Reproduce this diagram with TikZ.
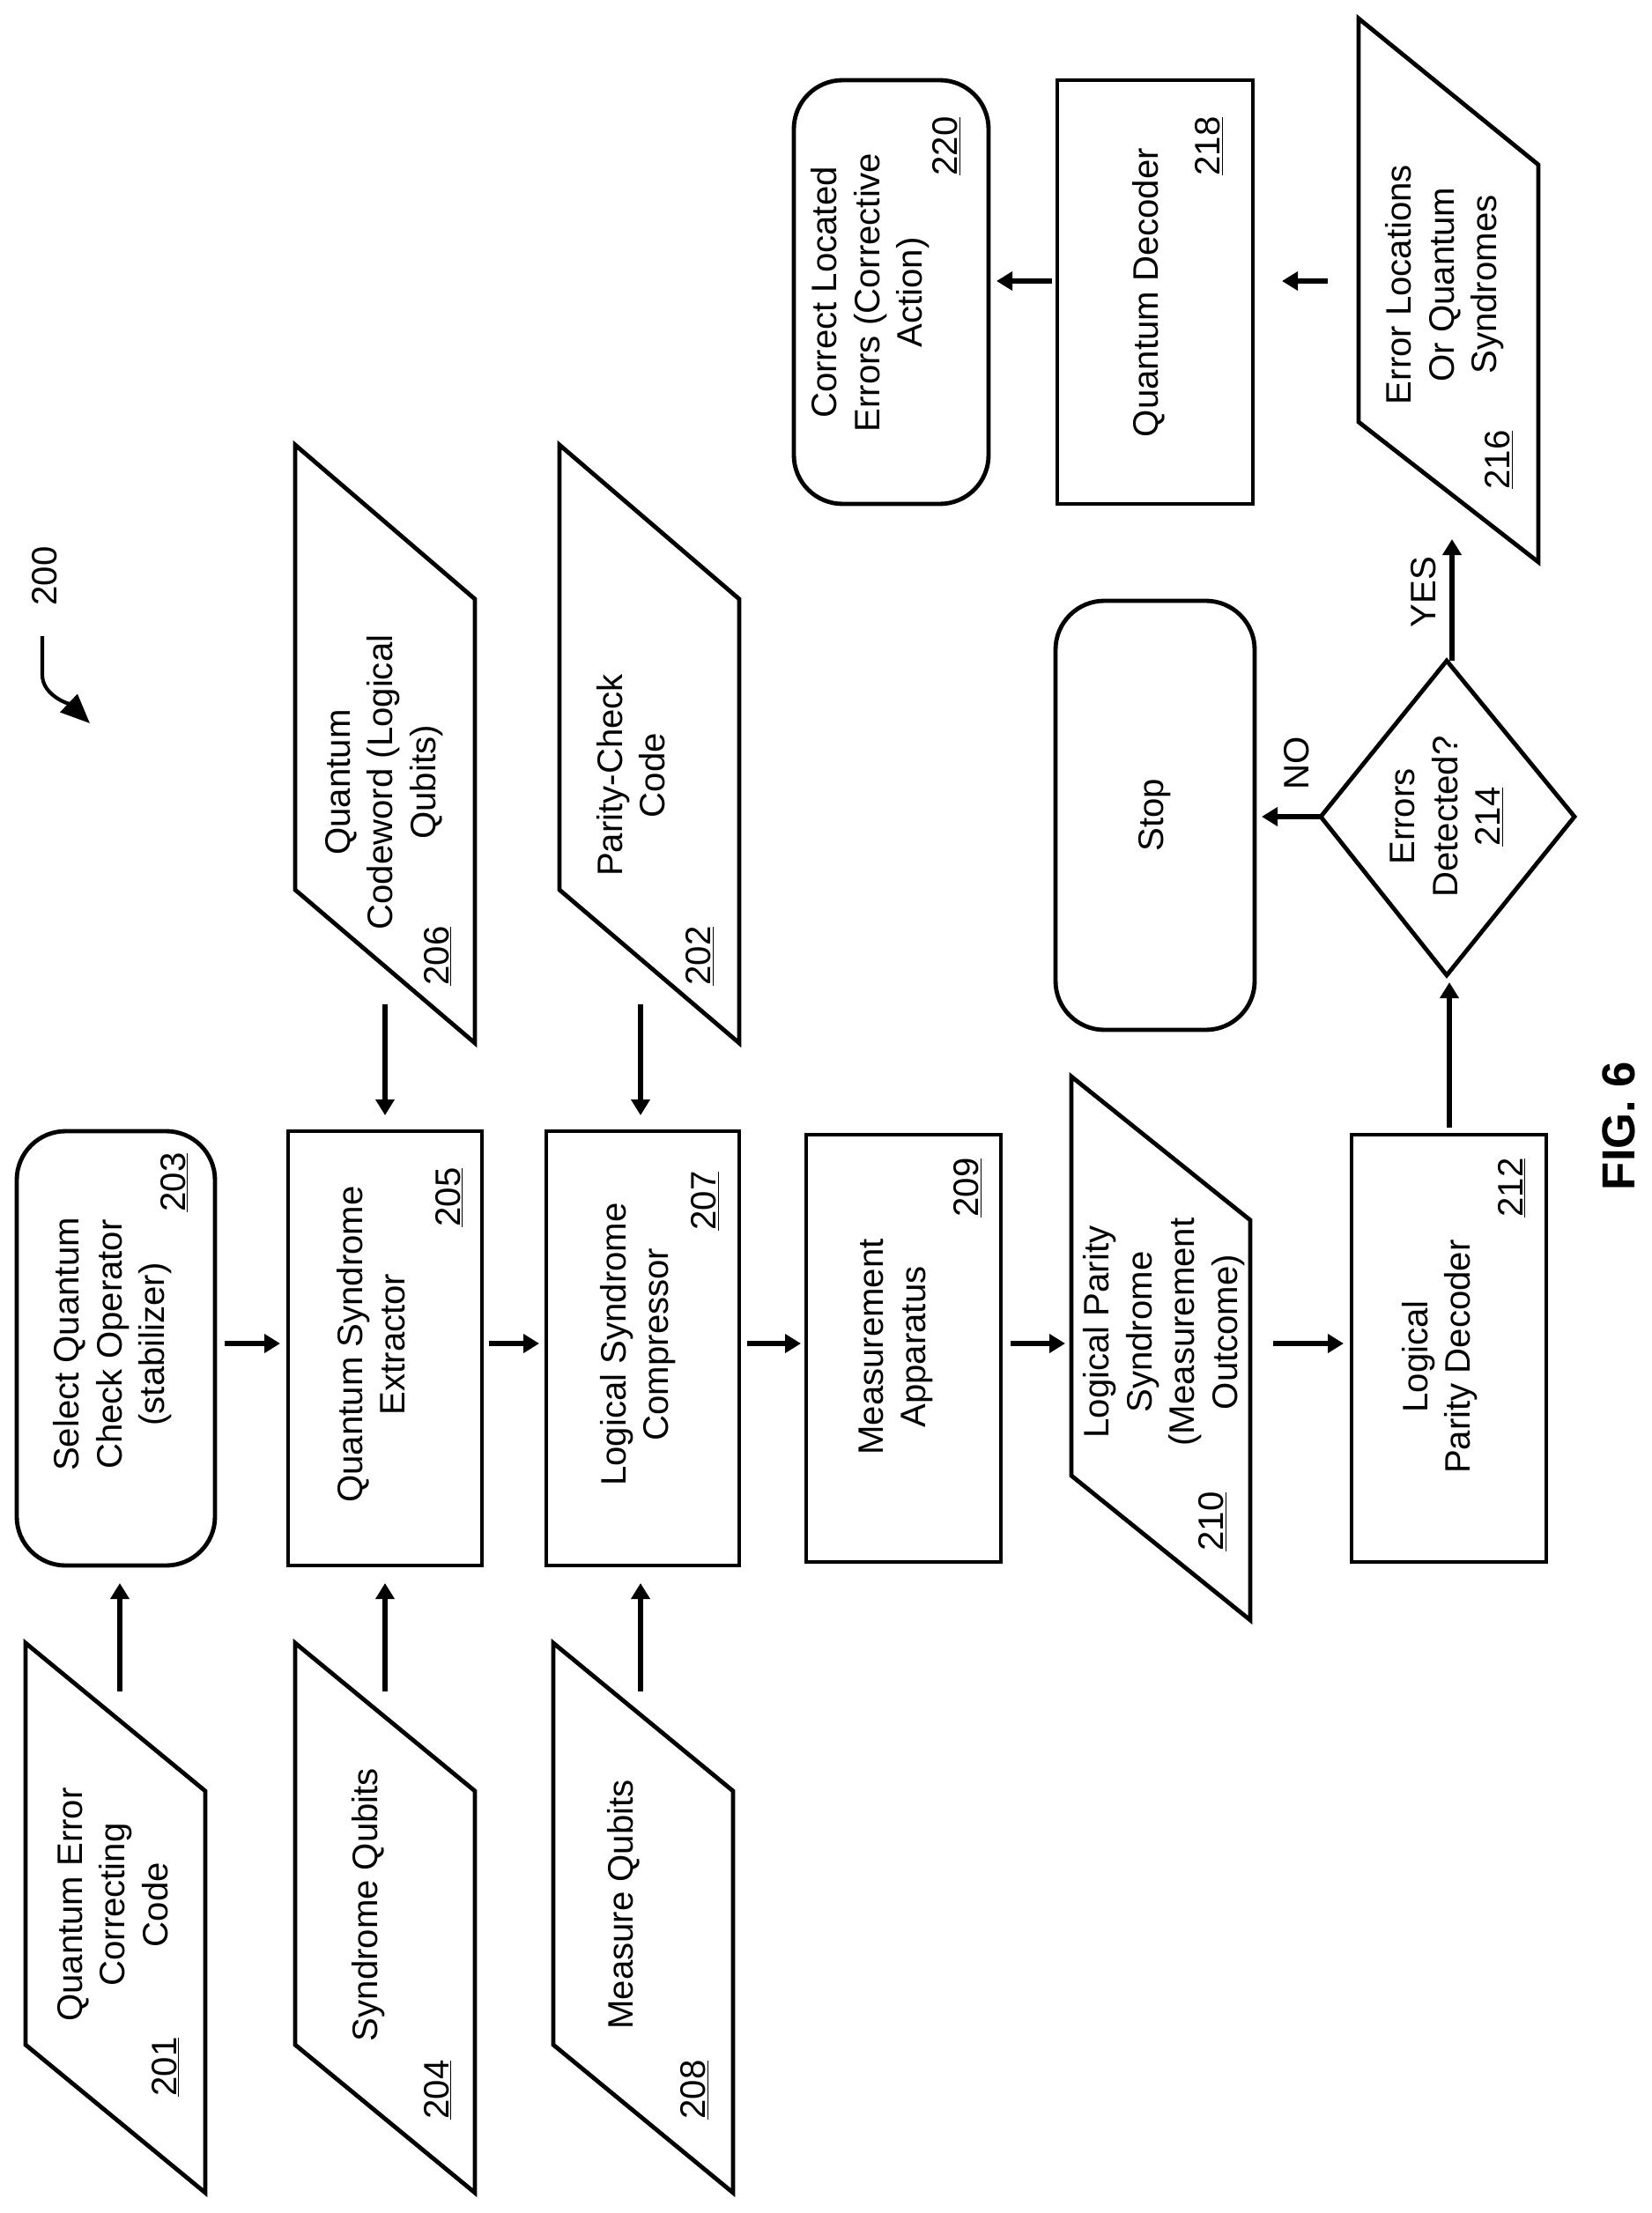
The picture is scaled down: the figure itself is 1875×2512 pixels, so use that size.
\documentclass[tikz,border=0pt]{standalone}
\usepackage{fontspec}
\setmainfont{Liberation Sans}
\usetikzlibrary{arrows.meta}
\begin{document}
\begin{tikzpicture}[x=0.01in,y=-0.01in,
  box/.style={draw,line width=3.5pt},
  rbox/.style={draw,line width=3.5pt,rounded corners=40pt},
  txt/.style={rotate=90,align=center,font=\fontsize{29}{35}\selectfont,inner sep=0pt},
  num/.style={rotate=90,font=\fontsize{29}{35}\selectfont,inner sep=0pt},
  arr/.style={line width=4pt,-{Triangle[length=13pt,width=15pt]}}]
\useasboundingbox (0,0) rectangle (1875,2512);
% rectangles
\draw[rbox] (19,1284) rectangle (244,1777);
\draw[box] (327,1284) rectangle (547,1777);
\draw[box] (620,1284) rectangle (839,1777);
\draw[box] (915,1288) rectangle (1136,1773);
\draw[box] (1534,1288) rectangle (1755,1773);
\draw[rbox] (901,91) rectangle (1122,572);
\draw[box] (1200,91) rectangle (1422,572);
\draw[rbox] (1198,682) rectangle (1424,1169);
% parallelograms
\draw[box] (29,1865) -- (233,2033) -- (233,2489) -- (29,2321) -- cycle;
\draw[box] (335,1865) -- (539,2033) -- (539,2489) -- (335,2321) -- cycle;
\draw[box] (628,1865) -- (832,2033) -- (832,2489) -- (628,2321) -- cycle;
\draw[box] (335,505) -- (539,680) -- (539,1184) -- (335,1010) -- cycle;
\draw[box] (635,505) -- (839,680) -- (839,1184) -- (635,1010) -- cycle;
\draw[box] (1216,1222) -- (1419,1385) -- (1419,1839) -- (1216,1675) -- cycle;
\draw[box] (1542,21) -- (1746,187) -- (1746,638) -- (1542,479) -- cycle;
% diamond
\draw[box] (1499,927) -- (1642,750) -- (1787,927) -- (1642,1107) -- cycle;
% texts
\node[txt] (t203) at (128,1526) {Select Quantum\\Check Operator\\(stabilizer)};
\node[num] (n203) at (198,1342) {\underline{203}};
\node[txt] (t205) at (421,1526) {Quantum Syndrome\\Extractor};
\node[num] (n205) at (510,1359) {\underline{205}};
\node[txt] (t207) at (724,1526) {Logical Syndrome\\Compressor};
\node[num] (n207) at (800,1363) {\underline{207}};
\node[txt] (t209) at (1017,1529) {Measurement\\Apparatus};
\node[num] (n209) at (1098,1348) {\underline{209}};
\node[txt] (t210) at (1321,1512) {Logical Parity\\Syndrome\\(Measurement\\Outcome)};
\node[num] (n210) at (1376,1727) {\underline{210}};
\node[txt] (t212) at (1634,1540) {Logical\\Parity Decoder};
\node[num] (n212) at (1716,1348) {\underline{212}};
\node[txt] (t201) at (128,2162) {Quantum Error\\Correcting\\Code};
\node[num] (n201) at (188,2346) {\underline{201}};
\node[txt] (t204) at (418,2162) {Syndrome Qubits};
\node[num] (n204) at (497,2372) {\underline{204}};
\node[txt] (t208) at (708,2162) {Measure Qubits};
\node[num] (n208) at (788,2372) {\underline{208}};
\node[txt] (t206) at (436,888) {Quantum\\Codeword (Logical\\Qubits)};
\node[num] (n206) at (497,1085) {\underline{206}};
\node[txt] (t202) at (716,880) {Parity-Check\\Code};
\node[num] (n202) at (794,1085) {\underline{202}};
\node[txt] (t220) at (988,332) {Correct Located\\Errors (Corrective\\Action)};
\node[num] (n220) at (1074,166) {\underline{220}};
\node[txt] (t218) at (1304,332) {Quantum Decoder};
\node[num] (n218) at (1372,166) {\underline{218}};
\node[txt] (t216) at (1640,323) {Error Locations\\Or Quantum\\Syndromes};
\node[num] (n216) at (1701,522) {\underline{216}};
\node[txt] (tstop) at (1311,925) {Stop};
\node[txt] (t214) at (1642,927) {Errors\\Detected?\\\underline{214}};
\node[num] (no) at (1472,866) {NO};
\node[num] (yes) at (1616,672) {YES};
\node[num] (n200) at (51,654) {200};
\node[rotate=90,font=\bfseries\fontsize{38}{42}\selectfont,inner sep=0pt] (fig) at (1837,1278) {FIG. 6};
% arrow coordinates
\coordinate (a1s) at (136,1920); \coordinate (a1e) at (136,1797);
\coordinate (a2s) at (437,1920); \coordinate (a2e) at (437,1797);
\coordinate (a3s) at (727,1920); \coordinate (a3e) at (727,1797);
\coordinate (a4s) at (437,1140); \coordinate (a4e) at (437,1266);
\coordinate (a5s) at (727,1140); \coordinate (a5e) at (727,1266);
\coordinate (h1s) at (255,1525); \coordinate (h1e) at (318,1525);
\coordinate (h2s) at (555,1525); \coordinate (h2e) at (612,1525);
\coordinate (h3s) at (848,1525); \coordinate (h3e) at (909,1525);
\coordinate (h4s) at (1147,1525); \coordinate (h4e) at (1209,1525);
\coordinate (h5s) at (1445,1525); \coordinate (h5e) at (1525,1525);
\coordinate (v1s) at (1645,1280); \coordinate (v1e) at (1645,1115);
\coordinate (nos) at (1499,927); \coordinate (noe) at (1432,927);
\coordinate (yss) at (1648,750); \coordinate (yse) at (1648,612);
\coordinate (q1s) at (1507,319); \coordinate (q1e) at (1455,319);
\coordinate (q2s) at (1194,319); \coordinate (q2e) at (1131,319);
\draw[arr] (a1s) -- (a1e); \draw[arr] (a2s) -- (a2e); \draw[arr] (a3s) -- (a3e);
\draw[arr] (a4s) -- (a4e); \draw[arr] (a5s) -- (a5e);
\draw[arr] (h1s) -- (h1e); \draw[arr] (h2s) -- (h2e); \draw[arr] (h3s) -- (h3e);
\draw[arr] (h4s) -- (h4e); \draw[arr] (h5s) -- (h5e);
\draw[arr] (v1s) -- (v1e); \draw[arr] (nos) -- (noe); \draw[arr] (yss) -- (yse);
\draw[arr] (q1s) -- (q1e); \draw[arr] (q2s) -- (q2e);
% 200 pointer
\coordinate (p1) at (48,722); \coordinate (p2) at (102,821);
\draw[line width=3pt,-{Triangle[length=24pt,width=20pt]}] (p1) -- (48,766) .. controls (48,790) and (80,800) .. (p2);
\end{tikzpicture}
\end{document}
